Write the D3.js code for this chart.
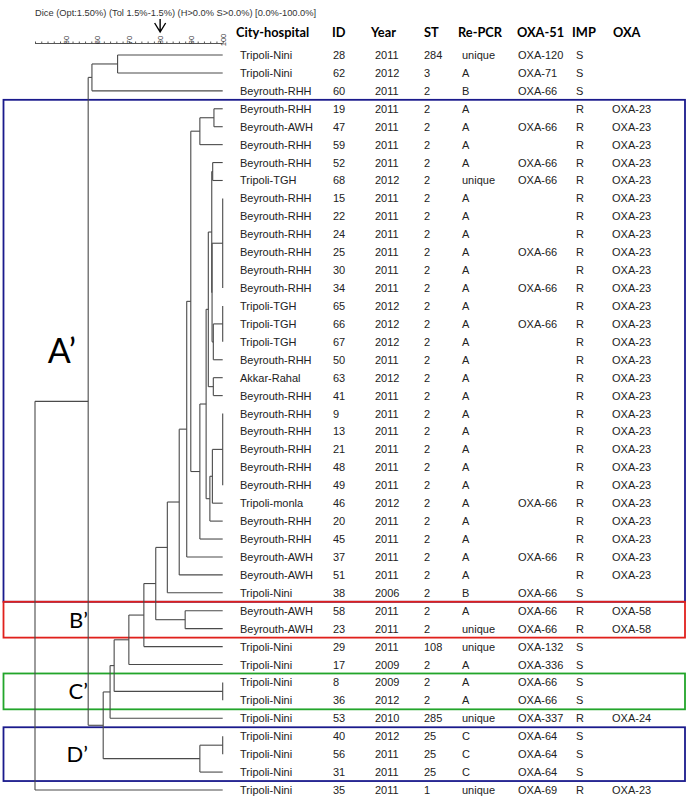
<!DOCTYPE html>
<html><head><meta charset="utf-8">
<script src="https://cdn.jsdelivr.net/npm/d3@7"></script>
<style>body{margin:0;background:#fff}svg{display:block}</style>
</head><body>
<script>
// ---------- DATA ----------
const cityHospital = ["Tripoli-Nini","Tripoli-Nini","Beyrouth-RHH","Beyrouth-RHH","Beyrouth-AWH","Beyrouth-RHH","Beyrouth-RHH","Tripoli-TGH","Beyrouth-RHH","Beyrouth-RHH","Beyrouth-RHH","Beyrouth-RHH","Beyrouth-RHH","Beyrouth-RHH","Tripoli-TGH","Tripoli-TGH","Tripoli-TGH","Beyrouth-RHH","Akkar-Rahal","Beyrouth-RHH","Beyrouth-RHH","Beyrouth-RHH","Beyrouth-RHH","Beyrouth-RHH","Beyrouth-RHH","Tripoli-monla","Beyrouth-RHH","Beyrouth-RHH","Beyrouth-AWH","Beyrouth-AWH","Tripoli-Nini","Beyrouth-AWH","Beyrouth-AWH","Tripoli-Nini","Tripoli-Nini","Tripoli-Nini","Tripoli-Nini","Tripoli-Nini","Tripoli-Nini","Tripoli-Nini","Tripoli-Nini","Tripoli-Nini"];
const ids = ["28","62","60","19","47","59","52","68","15","22","24","25","30","34","65","66","67","50","63","41","9","13","21","48","49","46","20","45","37","51","38","58","23","29","17","8","36","53","40","56","31","35"];
const years = ["2011","2012","2011","2011","2011","2011","2011","2012","2011","2011","2011","2011","2011","2011","2012","2012","2012","2011","2012","2011","2011","2011","2011","2011","2011","2012","2011","2011","2011","2011","2006","2011","2011","2011","2009","2009","2012","2010","2012","2011","2011","2011"];
const st = ["284","3","2","2","2","2","2","2","2","2","2","2","2","2","2","2","2","2","2","2","2","2","2","2","2","2","2","2","2","2","2","2","2","108","2","2","2","285","25","25","25","1"];
const rePCR = ["unique","A","B","A","A","A","A","unique","A","A","A","A","A","A","A","A","A","A","A","A","A","A","A","A","A","A","A","A","A","A","B","A","unique","unique","A","A","A","unique","C","C","C","unique"];
const oxa51 = ["OXA-120","OXA-71","OXA-66","","OXA-66","","OXA-66","OXA-66","","","","OXA-66","","OXA-66","","OXA-66","","","","","","","","","","OXA-66","","","OXA-66","","OXA-66","OXA-66","OXA-66","OXA-132","OXA-336","OXA-66","OXA-66","OXA-337","OXA-64","OXA-64","OXA-64","OXA-69"];
const imp = ["S","S","S","R","R","R","R","R","R","R","R","R","R","R","R","R","R","R","R","R","R","R","R","R","R","R","R","R","R","R","S","R","R","S","S","S","S","R","S","S","S","R"];
const oxa = ["","","","OXA-23","OXA-23","OXA-23","OXA-23","OXA-23","OXA-23","OXA-23","OXA-23","OXA-23","OXA-23","OXA-23","OXA-23","OXA-23","OXA-23","OXA-23","OXA-23","OXA-23","OXA-23","OXA-23","OXA-23","OXA-23","OXA-23","OXA-23","OXA-23","OXA-23","OXA-23","OXA-23","","OXA-58","OXA-58","","","","","OXA-24","","","","OXA-23"];
const headers = ["City-hospital","ID","Year","ST","Re-PCR","OXA-51","IMP","OXA"];
const axisTicks = [50,60,70,80,90,100];
const cutoff = 80;
const titleText = "Dice (Opt:1.50%) (Tol 1.5%-1.5%) (H>0.0% S>0.0%) [0.0%-100.0%]";
// dendrogram merges: [node, similarity %, children...]  (L# = row index)
const merges = [
  ["n1",66.4,"L0","L1"],
  ["n2",58.2,"n1","L2"],
  ["a1",97.2,"L3","L4"],
  ["a2",92.7,"a1","L5"],
  ["a3",96.8,"L6","L7"],
  ["g1",100,"L8","L9","L10","L11","L12","L13"],
  ["g2",100,"L14","L15","L16"],
  ["b1",97.0,"g2","L17"],
  ["b2",96.6,"g1","b1"],
  ["b3",96.5,"a3","b2"],
  ["c1",97.0,"L18","L19"],
  ["b4",95.4,"b3","c1"],
  ["g3",100,"L20","L21","L22","L23","L24"],
  ["d1",96.7,"g3","L25"],
  ["d2",95.9,"d1","L26"],
  ["b5",94.7,"b4","d2"],
  ["b6",92.7,"b5","L27"],
  ["b7",89.8,"a2","b6"],
  ["b8",88.5,"b7","L28"],
  ["b9",86.1,"b8","L29"],
  ["b10",82.3,"b9","L30"],
  ["bp",88.0,"L31","L32"],
  ["b11",78.6,"b10","bp"],
  ["b12",74.8,"b11","L33"],
  ["b13",70.0,"b12","L34"],
  ["cp",100,"L35","L36"],
  ["b14",65.3,"b13","cp"],
  ["b15",64.0,"b14","L37"],
  ["dg",100,"L38","L39"],
  ["dp",92.7,"dg","L40"],
  ["b16",61.8,"b15","dp"],
  ["n3",57.0,"n2","b16"],
  ["root",40.0,"n3","L41"]
];
// cluster boxes: [label, first row, last row, colour]
const boxes = [["A’",3,30,"#1a1a8c"],["B’",31,32,"#e0201c"],["C’",35,36,"#22a52a"],["D’",38,40,"#1a1a8c"]];

// ---------- DRAW ----------
const W = 689, H = 799;
const svg = d3.select("body").append("svg").attr("width",W).attr("height",H);
const x = d3.scaleLinear().domain([40,100]).range([35,222.7]);
const y = d3.scaleLinear().domain([0,41]).range([55,790]);
const rowH = y(1)-y(0);

// boxes
boxes.forEach(([lab,a,b,col])=>{
  svg.append("rect").attr("x",3.5).attr("y",y(a)-rowH/2).attr("width",681.5)
    .attr("height",y(b)-y(a)+rowH).attr("fill","none").attr("stroke",col).attr("stroke-width",1.8);
  const big = lab==="A’";
  svg.append("text").attr("x",big?76:88).attr("y",(y(a)+y(b))/2+(big?12:8))
    .attr("text-anchor","end")
    .attr("font-family","Lato, 'Open Sans', sans-serif").attr("font-size",big?34:22)
    .attr("fill","#000").text(lab);
});

// dendrogram
const pos = {};
ids.forEach((d,i)=>{pos["L"+i]={x:x(100),y:y(i)};});
const g = svg.append("g").attr("stroke","#4a4a4a").attr("stroke-width",1.1).attr("fill","none");
merges.forEach(([name,sim,...kids])=>{
  const nx = x(sim);
  const ys = kids.map(k=>pos[k].y);
  const y0 = d3.min(ys), y1 = d3.max(ys);
  g.append("line").attr("x1",nx).attr("x2",nx).attr("y1",y0).attr("y2",y1);
  kids.forEach(k=>{
    if (pos[k].x>nx) g.append("line").attr("x1",nx).attr("x2",pos[k].x).attr("y1",pos[k].y).attr("y2",pos[k].y);
  });
  pos[name]={x:nx,y:(y0+y1)/2};
});

// axis
const axG = svg.append("g").attr("transform","translate(0,43.5)");
axG.call(d3.axisTop(x).tickValues(d3.range(40,101,2)).tickSize(2).tickFormat(""))
  .call(s=>s.select(".domain").attr("stroke","#555").attr("d",`M${x(40)},0H${x(100)}`))
  .call(s=>s.selectAll(".tick line").attr("stroke","#555"));
axG.selectAll(".lab").data(axisTicks).join("text")
  .attr("transform",d=>`translate(${x(d)+2.8},-3.5) rotate(-90)`)
  .attr("font-family","Liberation Sans, Arial, sans-serif").attr("font-size",7.5).attr("fill","#333").text(d=>d);
svg.append("text").attr("x",35).attr("y",16).attr("font-family","Liberation Sans, Arial, sans-serif")
  .attr("font-size",9.3).attr("fill","#333").text(titleText);
// cut-off arrow
const ax = x(cutoff);
svg.append("path").attr("d",`M${ax},19V32M${ax-5.5},23L${ax},32L${ax+5.5},23`)
  .attr("stroke","#000").attr("stroke-width",1.4).attr("fill","none");

// table
const colX = [240,333,375,424,462,518,576,612];
const headX = [236,332,371,424,458,517,572,613];
const cols = [cityHospital,ids,years,st,rePCR,oxa51,imp,oxa];
headers.forEach((h,i)=>{
  svg.append("text").attr("x",headX[i]).attr("y",37).attr("font-family","Lato, sans-serif")
    .attr("font-weight","bold").attr("font-size",12.8).attr("fill","#000").text(h);
});
const tbl = svg.append("g").attr("font-family","Liberation Sans, Arial, sans-serif").attr("font-size",11).attr("fill","#222");
cols.forEach((arr,c)=>{
  tbl.selectAll(null).data(arr).join("text").attr("x",colX[c]).attr("y",(d,i)=>y(i)+4).text(d=>d);
});
</script>
</body></html>
